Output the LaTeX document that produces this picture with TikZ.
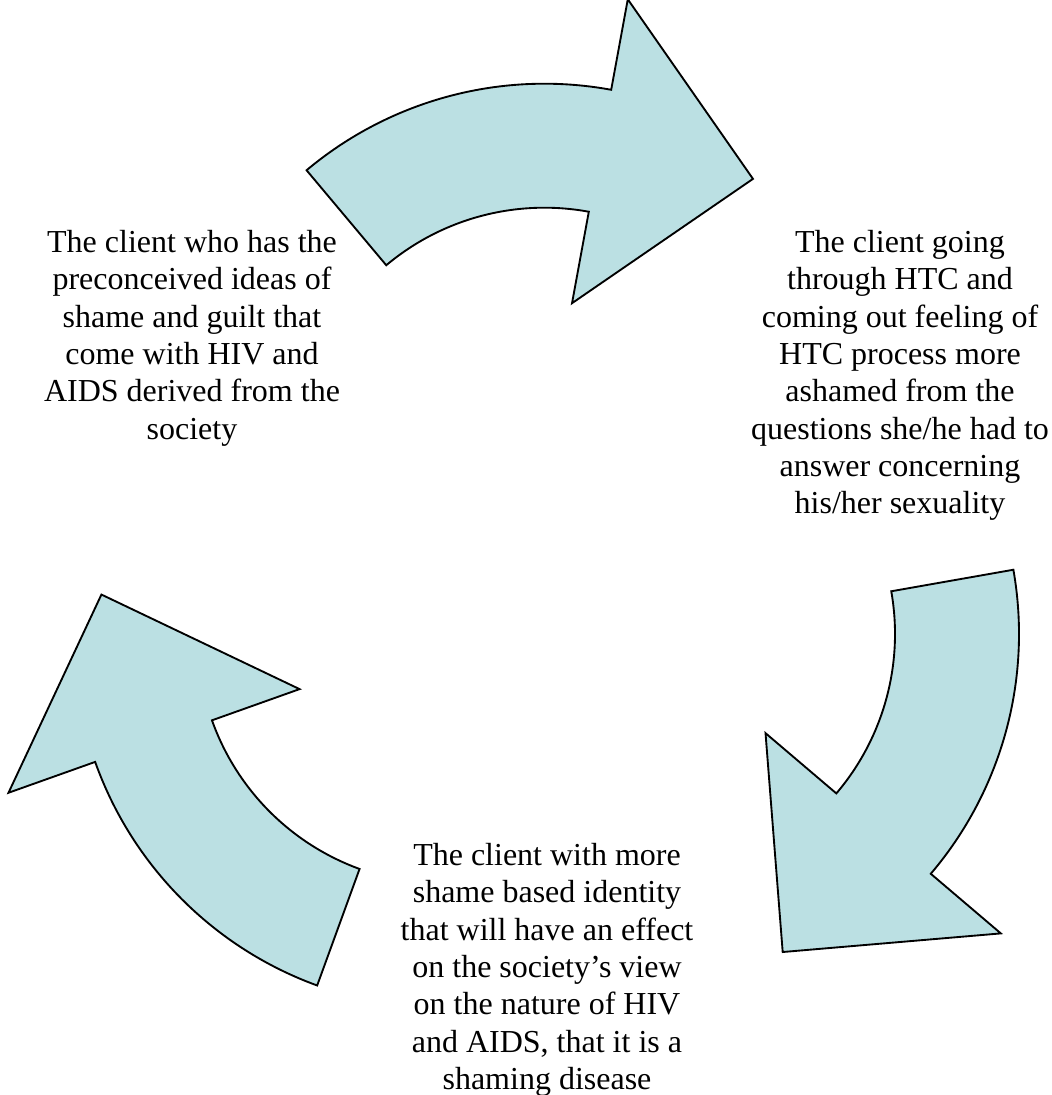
\documentclass[tikz,border=0pt]{standalone}
\usepackage{fontspec}
\setmainfont{Liberation Serif}
\definecolor{arrowfill}{HTML}{BBE0E3}
\begin{document}
\begin{tikzpicture}[x=0.75pt,y=0.75pt,
  arrowshape/.style={draw=black,fill=arrowfill,line width=1.4pt,line join=miter},
  cycarrow/.pic={
    \path[arrowshape] (130:370) arc[start angle=130,end angle=79.6,radius=370]
      -- (79.6:462) -- (52.8:345) -- (79.6:153) -- (79.6:246)
      arc[start angle=79.6,end angle=130,radius=246] -- cycle;
  },
  label/.style={align=center,inner sep=0pt,anchor=north,font=\fontsize{24}{28}\selectfont}]
\useasboundingbox (0,0) rectangle (1051,1095);
% arrows (centres measured in pixels, y upwards)
\pic[rotate=0]    at (544.4,641.3) {cycarrow};
\pic[rotate=-120] at (649,461)     {cycarrow};
\pic[rotate=120]  at (443.7,457.2) {cycarrow};
% texts
\node[label] (left) at (192,865) {The client who has the\\preconceived ideas of\\shame and guilt that\\come with HIV and\\AIDS derived from the\\society};
\node[label] (right) at (900,865) {The client going\\through HTC and\\coming out feeling of\\HTC process more\\ashamed from the\\questions she/he had to\\answer concerning\\his/her sexuality};
\node[label] (bottom) at (547,252) {The client with more\\shame based identity\\that will have an effect\\on the society’s view\\on the nature of HIV\\and AIDS, that it is a\\shaming disease};
\end{tikzpicture}
\end{document}
